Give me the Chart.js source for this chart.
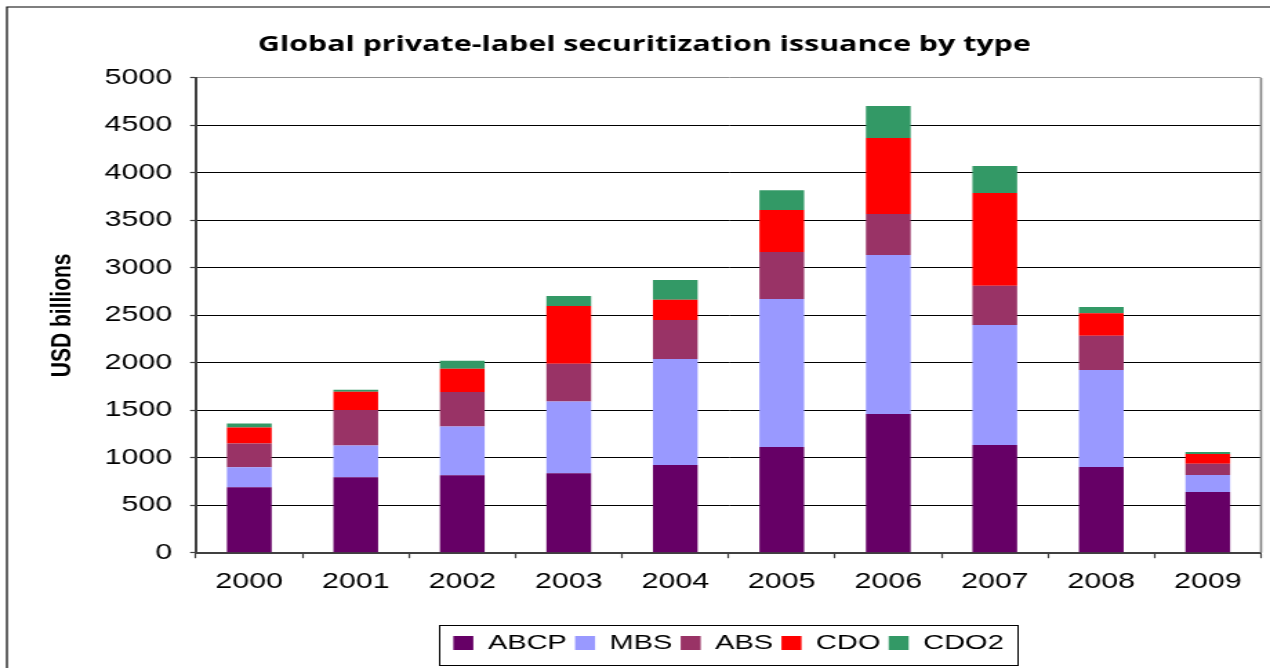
<!DOCTYPE html>
<html>
<head>
<meta charset="utf-8">
<title>Global private-label securitization issuance by type</title>
<script src="https://cdn.jsdelivr.net/npm/chart.js@4.4.1/dist/chart.umd.min.js"></script>
<style>
  html, body { margin: 0; padding: 0; background: #ffffff; overflow: hidden; }
  #chart { display: block; width: 1270px; height: 668px; }
</style>
</head>
<body>
<canvas id="chart" width="920" height="668" style="width:1270px;height:668px"></canvas>
<script>
// Issuance by year, USD billions
const years = ['2000', '2001', '2002', '2003', '2004', '2005', '2006', '2007', '2008', '2009'];
const abcp  = [689, 794, 815, 836, 923, 1113, 1461, 1134, 902, 639];
const mbs   = [210, 336, 514, 755, 1117, 1558, 1674, 1264, 1022, 179];
const abs   = [252, 374, 364, 399, 410, 495, 432, 414, 361, 119];
const cdo   = [167, 192, 244, 608, 214, 443, 800, 976, 236, 102];
const cdo2  = [43, 21, 84, 105, 208, 208, 337, 284, 66, 21];

const yMin = 0;
const yMax = 5000;
const yStep = 500;

const titleText = 'Global private-label securitization issuance by type';
const yTitleText = 'USD billions';

const canvas = document.getElementById('chart');
const W = canvas.width;
const H = canvas.height;

// Frame lines, plot-area right edge and the box around the legend
const decorations = {
  id: 'decorations',
  afterDraw(chart) {
    const ctx = chart.ctx;
    const area = chart.chartArea;
    ctx.save();
    // outer frame (left and top edges)
    ctx.strokeStyle = '#000000';
    ctx.lineWidth = 1.2;
    ctx.beginPath();
    ctx.moveTo(5, H + 5);
    ctx.lineTo(5, 7);
    ctx.lineTo(W + 5, 7);
    ctx.stroke();
    // plot area right edge
    ctx.strokeStyle = '#808080';
    ctx.lineWidth = 1.6;
    ctx.beginPath();
    ctx.moveTo(area.right, area.top);
    ctx.lineTo(area.right, area.bottom);
    ctx.stroke();
    // legend box
    const boxes = chart.legend && chart.legend.legendHitBoxes;
    if (boxes && boxes.length) {
      const first = boxes[0];
      const last = boxes[boxes.length - 1];
      const cy = first.top + first.height / 2;
      const left = Math.round(first.left - 10) + 0.5;
      const right = Math.round(last.left + last.width + 9.5) + 0.5;
      const top = Math.round(cy - 18) + 0.5;
      const bottom = Math.round(cy + 22) + 0.5;
      ctx.strokeStyle = '#000000';
      ctx.lineWidth = 1;
      ctx.strokeRect(left, top, right - left, bottom - top);
    }
    ctx.restore();
  }
};

new Chart(canvas, {
  type: 'bar',
  data: {
    labels: years,
    datasets: [
      { label: 'ABCP', data: abcp, backgroundColor: '#660066' },
      { label: 'MBS',  data: mbs,  backgroundColor: '#9999FF' },
      { label: 'ABS',  data: abs,  backgroundColor: '#993366' },
      { label: 'CDO',  data: cdo,  backgroundColor: '#FF0000' },
      { label: 'CDO2', data: cdo2, backgroundColor: '#339966' }
    ]
  },
  options: {
    responsive: false,
    animation: false,
    devicePixelRatio: 1,
    layout: { padding: { left: 20, right: 6.5, top: 0, bottom: 4.5 } },
    datasets: {
      bar: { categoryPercentage: 1, barPercentage: 0.42, borderWidth: 0 }
    },
    plugins: {
      title: {
        display: true,
        text: titleText,
        color: '#000000',
        font: { family: '"Open Sans", "DejaVu Sans", sans-serif', size: 22, weight: 'bold', lineHeight: 1.2 },
        padding: { top: 31.5, bottom: 20 }
      },
      legend: {
        display: true,
        position: 'bottom',
        fullSize: false,
        labels: {
          color: '#000000',
          font: { family: '"Liberation Sans", Arial, sans-serif', size: 21 },
          boxWidth: 14.5,
          boxHeight: 14,
          padding: 6
        }
      },
      tooltip: { enabled: false }
    },
    scales: {
      x: {
        stacked: true,
        afterFit(scale) { scale.height = 73.8; },
        grid: {
          display: true,
          offset: true,
          drawOnChartArea: false,
          drawTicks: true,
          tickLength: 5.5,
          tickColor: '#404040',
          tickWidth: 1.2
        },
        border: { display: true, color: '#404040', width: 2 },
        ticks: {
          color: '#000000',
          font: { family: '"Liberation Sans", Arial, sans-serif', size: 22 },
          padding: 10.5,
          maxRotation: 0,
          autoSkip: false
        }
      },
      y: {
        stacked: true,
        min: yMin,
        max: yMax,
        afterFit(scale) { scale.width = 122; },
        grid: {
          color: (c) => (c.tick && c.tick.value === yMax ? '#909090' : '#000000'),
          lineWidth: 1,
          drawTicks: true,
          tickLength: 4.3,
          tickColor: '#404040',
          tickWidth: 1.2
        },
        border: { display: true, color: '#404040', width: 2 },
        ticks: {
          stepSize: yStep,
          color: '#000000',
          font: { family: '"Liberation Sans", Arial, sans-serif', size: 22 },
          padding: 13,
          callback: (v) => String(v)
        },
        title: {
          display: true,
          text: yTitleText,
          color: '#000000',
          font: { family: '"Liberation Sans", Arial, sans-serif', size: 21, weight: 'bold', lineHeight: 1.2 },
          padding: { top: 12.9, bottom: 0 }
        }
      }
    }
  },
  plugins: [decorations]
});
</script>
</body>
</html>
